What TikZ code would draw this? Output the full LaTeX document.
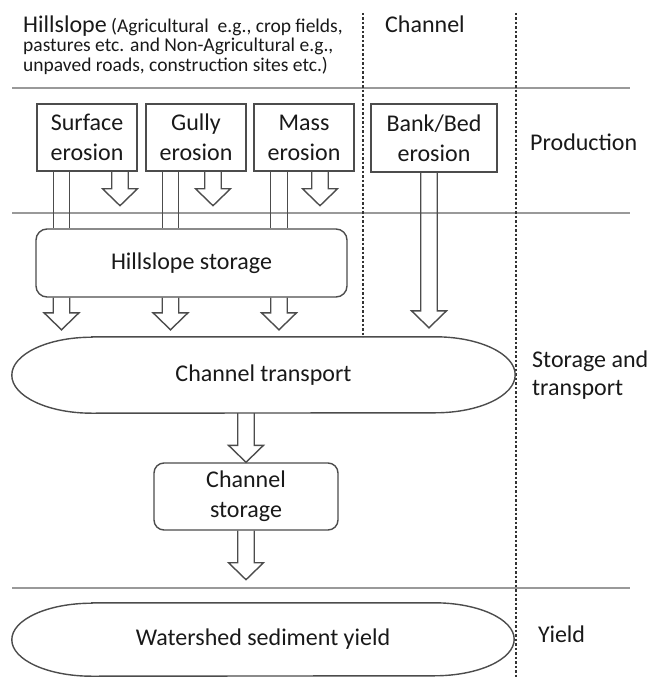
\documentclass[tikz,border=0pt]{standalone}
\usepackage{fontspec}
\setmainfont{Carlito}
\usetikzlibrary{calc,positioning}

\newcommand{\bigtext}{\fontsize{24}{30}\selectfont}
\newcommand{\smalltext}{\fontsize{19.5}{19.5}\selectfont}

% hollow block arrow: shaft from #1, tip at the height of #2
\newcommand{\blockarrow}[2]{%
  \draw[ink, line join=miter] let \p1=(#1), \p2=(#2) in
    ({\x1-8.25pt},\y1) -- ({\x1-8.25pt},{\y2+17pt}) -- ({\x1-17.5pt},{\y2+17pt})
    -- (\x1,\y2) -- ({\x1+17.5pt},{\y2+17pt}) -- ({\x1+8.25pt},{\y2+17pt})
    -- ({\x1+8.25pt},\y1);}
% open shaft, no head
\newcommand{\blockshaft}[2]{%
  \draw[ink] let \p1=(#1), \p2=(#2) in
    ({\x1-8.25pt},\y1) -- ({\x1-8.25pt},\y2) ({\x1+8.25pt},\y1) -- ({\x1+8.25pt},\y2);}
% terminator outline round a node, #2 = half height
\newcommand{\terminalshape}[2]{%
  \draw[ink] ([xshift=80pt]#1.north west) -- ([xshift=-80pt]#1.north east)
    arc[start angle=90, end angle=-90, x radius=80pt, y radius=#2]
    -- ([xshift=80pt]#1.south west)
    arc[start angle=270, end angle=90, x radius=80pt, y radius=#2] -- cycle;}

\begin{document}
\begin{tikzpicture}[x=1pt, y=1pt, every node/.style={text=black!90}]

    \tikzstyle{ink}=[draw=black!70, line width=1.4pt]
    \tikzstyle{erosionbox}=[ink, rectangle, minimum width=100pt, minimum height=67pt, inner sep=1pt, align=center, font=\bigtext]
    \tikzstyle{storebox}=[ink, rectangle, rounded corners=11pt, inner sep=1pt, align=center, font=\bigtext]
    \tikzstyle{terminal}=[rectangle, inner sep=0pt, font=\bigtext]
    \tikzstyle{zonelabel}=[inner sep=0pt, anchor=base west, align=left, font=\bigtext]
    \tikzstyle{zoneline}=[draw=black!40, line width=1.4pt]
    \tikzstyle{divider}=[draw=black!80, line width=1.3pt, dash pattern=on 2.5pt off 2pt]

    \useasboundingbox (0,0) rectangle (652,-677);

    % zones
    \draw[zoneline] (12,-88) -- (630,-88);
    \draw[zoneline] (12,-213) -- (630,-213);
    \draw[zoneline] (12,-588) -- (630,-588);
    \draw[divider] (363,-13) -- (363,-337);
    \draw[divider] (516,-13) -- (516,-677);

    % multi-line labels sit on their last baseline
    \node[zonelabel, font=\smalltext] (hillslope) at (23,-71)
        {{\bigtext Hillslope} (Agricultural\ \ e.g., crop fields,\\pastures etc. and Non-Agricultural e.g.,\\unpaved roads, construction sites etc.)};
    \node[zonelabel] (channel)    at (385,-33)  {Channel};
    \node[zonelabel] (production) at (530,-150) {Production};
    \node[zonelabel, font=\fontsize{24}{28}\selectfont] (storetrans) at (532,-395) {Storage and\\transport};
    \node[zonelabel] (yieldlabel) at (538,-642) {Yield};

    % sources
    \node[erosionbox] (surface) at (87,-137.5)  {Surface\\erosion};
    \node[erosionbox] (gully)   at (196,-137.5) {Gully\\erosion};
    \node[erosionbox] (mass)    at (304,-137.5) {Mass\\erosion};
    \node[erosionbox, minimum width=126pt, minimum height=68pt] (bank) at (434,-138) {Bank/Bed\\erosion};

    % storage and transport
    \node[storebox, minimum width=311pt, minimum height=68pt] (hstore) at (191.5,-263) {Hillslope storage};
    \node[terminal, minimum width=503pt, minimum height=76pt] (transport) at (263.5,-375) {Channel transport};
    \node[storebox, minimum width=184pt, minimum height=67pt, rounded corners=10pt] (cstore) at (246,-496.5) {Channel\\storage};
    \node[terminal, minimum width=502pt, minimum height=73pt] (yield) at (263,-639.5) {Watershed sediment yield};
    \terminalshape{transport}{38pt}
    \terminalshape{yield}{36.5pt}

    % flows
    \blockshaft{[xshift=-25.5pt]surface.south}{hstore.north}
    \blockshaft{[xshift=-25.5pt]gully.south}{hstore.north}
    \blockshaft{[xshift=-25pt]mass.south}{hstore.north}
    \blockarrow{[xshift=33pt]surface.south}{[yshift=-34pt]surface.south}
    \blockarrow{[xshift=17pt]gully.south}{[yshift=-34pt]gully.south}
    \blockarrow{[xshift=16pt]mass.south}{[yshift=-34pt]mass.south}
    \blockarrow{[xshift=-5pt]bank.south}{[yshift=9pt]transport.north}
    \blockarrow{[xshift=-130pt]hstore.south}{[yshift=7pt]transport.north}
    \blockarrow{[xshift=-21pt]hstore.south}{[yshift=7pt]transport.north}
    \blockarrow{[xshift=87.5pt]hstore.south}{[yshift=7pt]transport.north}
    \blockarrow{cstore.north |- transport.south}{cstore.north}
    \blockarrow{cstore.south}{[yshift=-49pt]cstore.south}
\end{tikzpicture}
\end{document}
